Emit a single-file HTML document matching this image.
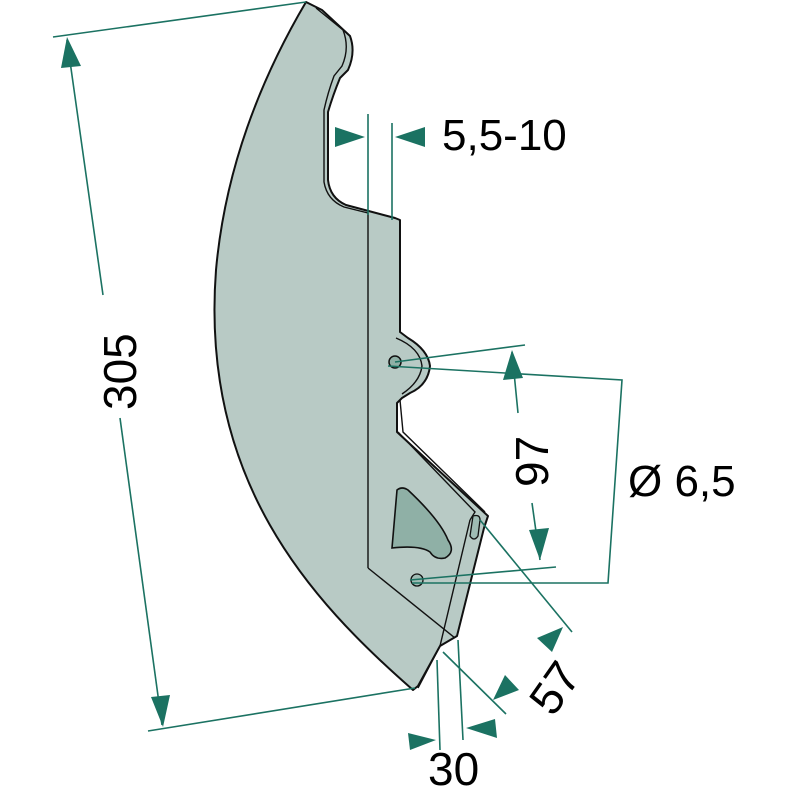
<!DOCTYPE html>
<html><head><meta charset="utf-8"><style>
html,body{margin:0;padding:0;background:#fff;}
svg{display:block}
text{font-family:"Liberation Sans",sans-serif;fill:#000}
</style></head><body>
<svg width="800" height="800" viewBox="0 0 800 800" xmlns="http://www.w3.org/2000/svg">
<!-- blade -->
<g stroke="#111" stroke-width="2" stroke-linejoin="round" fill="#b8cac5">
  <path d="M306,2 L322,10 L350,36 Q356,52 348,70 L340,78 Q333,95 328,112 L328,180 Q330,198 346,205 L395,218 L400,220 L400,332 L408,338 Q428,350 430,366 Q428,385 410,393 L402,398 L397,403 L397,432 L488,516 L484,528 L457,636 L440,646 L418,686 L413,690 C310,600 200,480 216,270 C225,170 260,80 306,2 Z"/>
</g>
<g stroke="#111" stroke-width="1.4" fill="none">
  <path d="M316,8 L343,30 Q350,48 342,66 L334,76 Q328,92 324,110 L324,182 Q327,200 344,207 L368,213"/>
  <line x1="368" y1="213" x2="368" y2="568"/>
  <line x1="368" y1="568" x2="455" y2="638"/>
  <path d="M396,338 Q420,348 422,366 Q420,382 402,394"/>
  <path d="M400,400 L403,432 L485,512"/>
  <path d="M398,432 L475,512 L470,520"/>
  <line x1="470" y1="520" x2="440" y2="646"/>
  <line x1="440" y1="646" x2="418" y2="688"/>
</g>
<path d="M397,490 Q402,486 408,490 Q440,520 448,540 Q456,552 445,558 Q435,560 430,552 Q420,545 392,548 Z" fill="#8fb0a6" stroke="#111" stroke-width="1.6"/>
<ellipse cx="395" cy="362" rx="6" ry="6" fill="#8fb0a6" stroke="#111" stroke-width="1.5"/>
<ellipse cx="417" cy="580" rx="6" ry="6" fill="#9fbcb4" stroke="#111" stroke-width="1.3"/>
<path d="M473,516 Q480,514 480,520 L478,536 Q474,542 470,536 Z" fill="#9fbcb4" stroke="#111" stroke-width="1.3"/>
<g stroke="#1b7262" stroke-width="1.6" fill="none">
  <line x1="53" y1="37" x2="306" y2="2"/>
  <line x1="148" y1="731" x2="415" y2="688"/>
  <line x1="67" y1="40" x2="103" y2="295"/>
  <line x1="120" y1="418" x2="162" y2="725"/>
  <line x1="368" y1="114" x2="368" y2="215"/>
  <line x1="392" y1="123" x2="392" y2="220"/>
  <line x1="395" y1="362" x2="525" y2="345"/>
  <line x1="410" y1="580" x2="556" y2="567"/>
  <line x1="512" y1="352" x2="518" y2="413"/>
  <line x1="532" y1="503" x2="540" y2="560"/>
  <polyline points="388,366 622,380 608,583 412,583"/>
  <line x1="480" y1="520" x2="572" y2="632"/>
  <line x1="443" y1="652" x2="506" y2="714"/>
  <line x1="437" y1="660" x2="440" y2="750"/>
  <line x1="458" y1="640" x2="463" y2="740"/>
</g>
<g fill="#1b7262">
  <polygon points="67,37 61,68 81,66"/>
  <polygon points="163,727 151,697 170,695"/>
  <polygon points="365,137 335,127 335,147"/>
  <polygon points="395,137 425,127 425,147"/>
  <polygon points="512,350 503,380 523,378"/>
  <polygon points="540,560 529,530 549,528"/>
  <polygon points="563,627 537,638 552,652"/>
  <polygon points="493,700 519,690 505,675"/>
  <polygon points="436,740 408,733 410,750"/>
  <polygon points="466,728 495,719 497,738"/>
</g>
<text x="0" y="0" font-size="46" transform="translate(136,410) rotate(-90)">305</text>
<text x="442" y="150" font-size="44">5,5-10</text>
<text x="0" y="0" font-size="46" transform="translate(548,487) rotate(-90)">97</text>
<text x="628" y="496" font-size="44">Ø 6,5</text>
<text x="0" y="0" font-size="46" transform="translate(553,718) rotate(-55)">57</text>
<text x="428" y="785" font-size="46">30</text>
</svg>
</body></html>
